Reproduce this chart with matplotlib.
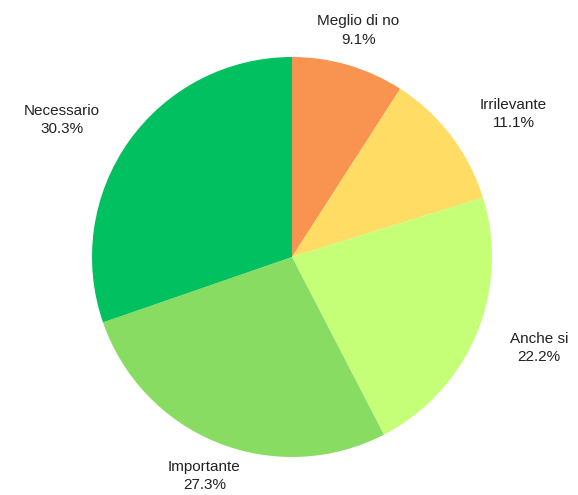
import numpy as np
import matplotlib
matplotlib.use("Agg")
import matplotlib.pyplot as plt

categories = ["Meglio di no", "Irrilevante", "Anche si", "Importante", "Necessario"]
values = [9.1, 11.1, 22.2, 27.3, 30.3]
colors = ["#f99350", "#ffdc64", "#c5ff78", "#88dc62", "#00c060"]

plt.rcParams['font.family'] = ['Liberation Sans', 'DejaVu Sans']

W, H = 578, 495
cx, cy, R = 292, 257, 200
fig = plt.figure(figsize=(W / 100, H / 100), dpi=100)
ax = fig.add_axes([0, 0, 1, 1])
wedges, _ = ax.pie(values, colors=colors, startangle=90, counterclock=False,
                   wedgeprops=dict(linewidth=0))
ax.set_xlim(-cx / R, (W - cx) / R)
ax.set_ylim(-(H - cy) / R, cy / R)
ax.set_aspect('auto')
ax.axis('off')

for w, cat, v in zip(wedges, categories, values):
    mid = np.deg2rad((w.theta1 + w.theta2) / 2)
    c, s = np.cos(mid), np.sin(mid)
    r = 1.18
    if abs(c) < 0.5:
        ha = 'center'
    elif c > 0:
        ha = 'left'
    else:
        ha = 'right'
    ax.text(r * c, r * s, f"{cat}\n{v:.1f}%", ha=ha, va='center',
            fontsize=11, color='#222222', linespacing=1.42, multialignment='center')

fig.savefig("out.png", dpi=100, facecolor='white')
